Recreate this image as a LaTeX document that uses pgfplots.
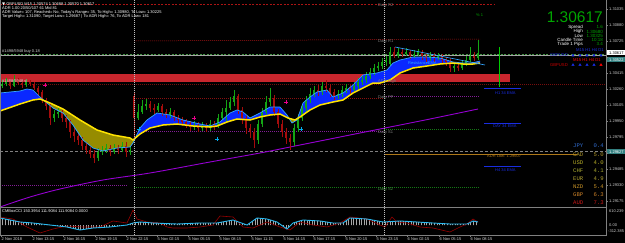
\documentclass[border=0pt]{standalone}
\usepackage{fontspec}
\setmainfont{Liberation Sans}
\newfontfamily\monof{Liberation Mono}
\newfontfamily\djv{DejaVu Sans}
\usepackage{pgfplots}
\usepackage{pgfplotstable}
\pgfplotsset{compat=1.18}
\usetikzlibrary{patterns.meta}
\definecolor{upc}{RGB}{20,165,20}
\definecolor{dnc}{RGB}{165,12,12}
\definecolor{bluefill}{RGB}{10,40,255}
\definecolor{fastline}{RGB}{50,165,255}
\definecolor{slowline}{RGB}{255,228,0}
\definecolor{olivefill}{RGB}{150,140,0}
\definecolor{zone}{RGB}{200,38,45}
\definecolor{purplema}{RGB}{150,0,210}
\definecolor{ccicyan}{RGB}{40,185,240}
\definecolor{ccired}{RGB}{150,0,0}
\definecolor{frame}{RGB}{128,128,128}
\definecolor{pivred}{RGB}{170,20,20}
\definecolor{pivgreen}{RGB}{20,120,20}
\definecolor{pivpurple}{RGB}{130,30,150}
\definecolor{adr}{RGB}{175,120,25}
\definecolor{emablue}{RGB}{25,45,225}
\definecolor{bigg}{RGB}{0,165,0}

\pgfplotsset{pix/.style={scale only axis, width=606pt, height=207.5pt,
  xmin=0, xmax=606, ymin=0, ymax=207.5, y dir=reverse, hide axis, clip=false}}

% candles: x, open, high, low, close (chart rows, smaller = higher price)
\pgfplotstableread{
x o h l c
2 86 80 88 84
6 84 78 86 82
14 86 75 87 80
26 85 79 87 82
54 118 110 122 114
58 114 108 118 112
98 158 148 161 152
102 152 146 155 150
106 150 144 153 148
114 152 144 154 148
122 150 142 152 146
130 152 146 155 150
138 118 104 120 112
142 112 100 114 106
146 106 99 110 104
158 110 103 112 106
170 115 108 118 112
194 127 121 130 125
202 128 122 131 126
210 128 120 131 124
218 126 114 128 118
222 118 108 120 112
226 112 100 123 108
230 108 97 110 102
234 102 90 106 96
258 140 120 144 124
262 124 108 127 112
266 112 96 114 102
270 102 88 106 98
294 142 124 146 128
298 128 114 132 118
302 118 104 121 108
306 108 96 112 100
310 100 88 103 94
314 94 86 97 90
322 92 82 95 86
338 96 90 99 94
342 94 86 97 90
346 90 84 93 88
354 90 82 93 86
358 86 78 90 82
362 82 76 85 80
366 80 72 83 76
370 76 68 79 72
374 72 64 75 68
378 68 62 71 66
382 66 58 69 62
386 62 56 66 60
390 64 47 66 52
398 56 48 58 52
406 54 48 56 52
414 56 50 58 54
418 54 49 56 52
430 58 52 61 55
438 58 53 60 56
454 68 63 72 66
462 68 60 70 64
466 64 56 66 60
470 60 47 62 56
478 58 40 60 53
}\upcandles
\pgfplotstableread{
x o h l c
10 82 80 89 86
18 80 78 85 83
22 83 81 88 85
30 82 80 86 84
34 84 82 90 88
38 88 86 95 92
42 92 90 103 100
46 100 98 110 106
50 106 104 125 118
62 112 110 122 118
66 118 115 128 122
70 122 120 138 132
74 132 128 142 136
78 136 133 145 140
82 140 137 150 146
86 146 142 154 150
90 150 147 158 154
94 154 150 163 158
110 148 145 156 152
118 148 145 154 150
126 146 142 157 152
134 96 93 140 118
150 104 101 112 108
154 108 104 114 110
162 106 104 116 112
166 112 109 118 115
174 112 110 121 118
178 118 115 124 120
182 120 117 126 122
186 122 119 128 124
190 124 121 131 127
198 125 122 132 128
206 126 123 132 128
214 124 121 130 126
238 96 94 114 110
242 110 107 124 118
246 118 115 134 128
250 128 124 138 132
254 132 128 148 140
274 98 95 116 112
278 112 109 128 124
282 124 120 137 132
286 132 128 144 138
290 138 134 150 142
318 90 85 96 92
326 86 80 92 88
330 88 84 97 92
334 92 89 100 96
350 88 85 94 90
394 52 47 58 56
402 52 49 57 54
410 52 50 59 56
422 52 50 60 56
426 56 53 62 58
434 55 53 62 58
442 56 54 64 60
446 60 57 66 62
450 62 58 72 68
458 66 64 71 68
474 56 52 61 58
}\dncandles

% fast moving average (upper edge of the band)
\pgfplotstableread{
x y
0 93
10 92
20 91
27 89
33 90
40 97
47 103
53 108
63 113
73 125
83 140
93 148
103 151
117 148
130 147
133 143
140 128
147 120
157 113
170 115
183 120
200 124
210 126
220 122
230 113
237 110
243 112
250 118
260 113
270 107
280 107
287 115
292 123
297 120
303 103
310 97
317 92
327 90
333 97
343 93
353 85
363 75
377 73
387 70
393 63
400 60
413 57
427 57
440 58
453 62
463 63
472 63
480 61
}\fastma
% slow moving average (yellow)
\pgfplotstableread{
x y
0 111
20 104
33 100
40 99
50 103
63 109
80 120
97 130
113 135
130 138
133 140
140 134
150 128
163 125
177 124
193 126
210 127
217 126
227 122
237 119
250 120
260 117
270 115
280 114
288 118
295 120
300 117
310 110
320 105
333 102
343 100
353 93
363 88
373 83
380 83
390 80
400 73
413 68
427 66
440 64
453 63
463 64
473 64
480 63
}\slowma

% CCI values (panel: zero line at row 225, 44 units per pixel row)
\pgfplotstableread{
x v
0 308
10 220
20 132
33 88
50 0
67 -88
80 -220
93 -132
110 -88
127 0
133 88
140 132
153 88
177 44
200 88
217 88
233 220
247 0
257 308
267 264
277 132
287 -176
293 88
303 220
320 176
333 88
343 88
350 308
367 264
383 132
400 176
417 132
433 88
450 44
460 44
467 44
473 176
478 132
}\ccia
\pgfplotstableread{
x v
0 352
13 264
27 -88
40 -352
53 -176
67 -44
83 -88
100 -88
113 176
127 88
133 660
137 264
147 132
160 88
167 -88
173 -132
187 -132
200 -88
213 0
220 396
233 352
243 -88
253 -132
267 132
280 -88
290 -220
300 132
313 0
327 -88
340 88
350 352
367 264
380 0
385 -88
392 352
397 132
407 88
420 -88
433 -132
450 -308
460 -88
467 44
473 264
478 132
}\ccib

\begin{document}
\begin{tikzpicture}[x=1pt,y=1pt]
\path[use as bounding box] (0,0) rectangle (625,-243);
\fill[black] (0,0) rectangle (625,-243);

% ---------------- main price panel: levels and band ----------------
\begin{axis}[pix, at={(0,0)}, anchor=north west]
\addplot[pivred, line width=0.5pt, dash pattern=on 2pt off 1.5pt] coordinates {(0,4) (495,4)};
\addplot[pivred, line width=0.5pt, dash pattern=on 1pt off 1pt] coordinates {(134,41) (480,39)};
\addplot[pivred!70!black, line width=0.6pt, dash pattern=on 1pt off 1pt] coordinates {(0,84) (606,84)};
\addplot[pivred!80!black, line width=0.5pt, dash pattern=on 1pt off 1pt] coordinates {(134,98.5) (384,98.5)};
\addplot[pivpurple, line width=0.5pt, dash pattern=on 1pt off 1pt] coordinates {(384,96) (480,96)};
\addplot[pivpurple, line width=0.5pt, dash pattern=on 1pt off 1pt] coordinates {(134,131) (384,131)};
\addplot[pivgreen, line width=0.5pt, dash pattern=on 1pt off 1pt] coordinates {(384,129.5) (480,129.5)};
\addplot[frame, line width=0.5pt, dash pattern=on 3pt off 2pt] coordinates {(0,151.5) (606,151.5)};
\addplot[adr, line width=1pt] coordinates {(384,154) (577,154)};
\addplot[pivpurple, line width=0.5pt, dash pattern=on 1pt off 1pt] coordinates {(0,185) (128,185)};
\addplot[pivgreen, line width=0.5pt, dash pattern=on 1pt off 1pt] coordinates {(134,187.5) (480,187.5)};
\addplot[pivgreen!80!white, line width=0.5pt, dash pattern=on 2pt off 1.5pt] coordinates {(0,54) (606,54)};
\addplot[frame!70!white, line width=0.5pt] coordinates {(0,55.7) (606,55.7)};
% supply zone
\addplot[zone, line width=8.5pt] coordinates {(0,77.75) (510,77.75)};
% band between the fast and slow averages (fast forward, slow back)
\addplot[fill=bluefill, draw=none] coordinates {
(0,93) (10,92) (20,91) (27,89) (33,90) (40,97) (47,103) (53,108) (63,113) (73,125) (83,140) (93,148) (103,151) (117,148) (130,147) (133,143) (140,128) (147,120) (157,113) (170,115) (183,120) (200,124) (210,126) (220,122) (230,113) (237,110) (243,112) (250,118) (260,113) (270,107) (280,107) (287,115) (292,123) (297,120) (303,103) (310,97) (317,92) (327,90) (333,97) (343,93) (353,85) (363,75) (377,73) (387,70) (393,63) (400,60) (413,57) (427,57) (440,58) (453,62) (463,63) (472,63) (480,61)
(480,63) (473,64) (463,64) (453,63) (440,64) (427,66) (413,68) (400,73) (390,80) (380,83) (373,83) (363,88) (353,93) (343,100) (333,102) (320,105) (310,110) (300,117) (295,120) (288,118) (280,114) (270,115) (260,117) (250,120) (237,119) (227,122) (217,126) (210,127) (193,126) (177,124) (163,125) (150,128) (140,134) (133,140) (130,138) (113,135) (97,130) (80,120) (63,109) (50,103) (40,99) (33,100) (20,104) (0,111)};
\addplot[fill=olivefill, draw=none] coordinates {
(42,99) (47,103) (53,108) (63,113) (73,125) (83,140) (93,148) (103,151) (117,148) (130,147) (133,143) (135.5,138)
(133,140) (130,138) (113,135) (97,130) (80,120) (63,109) (50,103)};
\addplot[fill=olivefill, draw=none] coordinates {(287.5,117) (292,123) (297,120) (295,120) (290,118.5)};
% long moving average
\addplot[purplema, line width=0.9pt, smooth] coordinates {(0,207) (30,197) (60,189) (103,180) (150,173) (210,162) (260,153) (300,145) (350,135) (385,128) (430,119) (478,109)};
% CCI panel (values mapped onto the panel rows)
\addplot[draw=none, pattern={Lines[angle=90, distance=2.6pt, line width=0.4pt]}, pattern color=white!65!black] table[x=x, y expr={225-\thisrow{v}/44}] {\ccia} -- (axis cs:478,225) -- (axis cs:0,225) -- cycle;
\addplot[ccired, line width=0.6pt] table[x=x, y expr={225-\thisrow{v}/44}] {\ccib};
\addplot[ccicyan, line width=0.9pt] table[x=x, y expr={225-\thisrow{v}/44}] {\ccia};
\end{axis}

% ---------------- candles ----------------
\begin{axis}[pix, at={(0,0)}, anchor=north west]
\addplot[upc, line width=0.5pt, quiver={u=0, v=\thisrow{l}-\thisrow{h}}] table[x=x, y=h] {\upcandles};
\addplot[dnc, line width=0.5pt, quiver={u=0, v=\thisrow{l}-\thisrow{h}}] table[x=x, y=h] {\dncandles};
\addplot[upc, line width=1.7pt, quiver={u=0, v=\thisrow{c}-\thisrow{o}}] table[x=x, y=o] {\upcandles};
\addplot[dnc, line width=1.7pt, quiver={u=0, v=\thisrow{c}-\thisrow{o}}] table[x=x, y=o] {\dncandles};
\end{axis}

% ---------------- averages and markers on top ----------------
\begin{axis}[pix, at={(0,0)}, anchor=north west]
\addplot[fastline, line width=0.7pt] table {\fastma};
\addplot[slowline, line width=1.5pt] table {\slowma};
\addplot[fastline, line width=0.6pt] coordinates {(395,47) (485,65)};
\addplot[only marks, mark=+, mark size=2pt, magenta, line width=0.9pt] coordinates {(45,85) (194,118) (286,102)};
\addplot[only marks, mark=+, mark size=2pt, cyan, line width=0.9pt] coordinates {(139,129) (217,139) (301,129)};
\addplot[green!80!black, line width=0.7pt] coordinates {(499,47) (499,87)};
\addplot[emablue, line width=0.8pt] coordinates {(484,88) (521,88)};
\addplot[emablue, line width=0.8pt] coordinates {(484,123) (521,123)};
\addplot[emablue, line width=0.8pt] coordinates {(484,166) (521,166)};
\addplot[only marks, mark=triangle*, mark size=1.4pt, emablue] coordinates {(573,55.5) (580,55.5) (587,55.5) (594,55.5) (601,55.5) (573,65) (580,65) (587,65) (594,65)};
\addplot[only marks, mark=triangle*, mark size=1.4pt, red] coordinates {(601,65)};
\end{axis}

% ---------------- texts (picture coordinates: 1pt = 1px, y downwards negative) ----------------
\begin{scope}[every node/.style={inner sep=0pt, font=\fontsize{4}{4.5}\selectfont}]
\node[anchor=west, white] at (2,-4) {{\djv ▼} GBPUSD,M15 1.30574 1.30688 1.30570 1.30617};
\node[anchor=west, white] at (2,-8.3) {ADR 1.00 20/50/107 61 Mid 81};
\node[anchor=west, white] at (2,-12.3) {ADR Value= 107, Reached= No, Today's Range= 35, To High= 1.30980, To Low= 1.30225};
\node[anchor=west, white] at (2,-16.3) {Target High= 1.31090, Target Low= 1.29687 | To ADR High= 76, To ADR Low= 181};
\node[anchor=west, white!85!black] at (2,-51.5) {\#1498/5948 buy 0.18};
\node[anchor=west, white!85!black] at (2,-81) {\#1498/5948 sl};
\node[anchor=west, frame] at (378,-5.5) {Daily R2};
\node[anchor=west, frame] at (378,-41) {Daily R1};
\node[anchor=west, frame] at (378,-81) {ADR High};
\node[anchor=west, frame] at (378,-97) {Daily PP};
\node[anchor=west, frame] at (378,-132) {Daily S1};
\node[anchor=west, pivgreen!80!white] at (378,-189) {Daily S2};
\node[anchor=west, fastline] at (408,-63) {ResistanceEMA};
\node[anchor=west, emablue] at (495,-93) {H1 34 EMA};
\node[anchor=west, emablue] at (493,-126) {DAY 34 EMA};
\node[anchor=west, emablue] at (495,-170) {H4 34 EMA};
\node[anchor=west, adr] at (487,-156.5) {ADR Low: 1.29607};
\node[anchor=west, bigg] at (476,-15) {\% 1};
\end{scope}

\node[anchor=east, bigg, inner sep=0pt, font=\fontsize{15.5}{15.5}\selectfont] at (603,-16.8) {1.30617};
\begin{scope}[every node/.style={inner sep=0pt, font=\fontsize{4.5}{5}\selectfont}]
\node[anchor=east, white] at (583,-27.2) {Spread};
\node[anchor=east, white] at (583,-31.5) {High};
\node[anchor=east, white] at (583,-35.8) {Low};
\node[anchor=east, white] at (583,-40.1) {Candle Time};
\node[anchor=east, white] at (583,-44.4) {Trade 1 Pips};
\node[anchor=east, bigg] at (603,-27.2) {1.6};
\node[anchor=east, bigg] at (603,-31.5) {1.30680};
\node[anchor=east, bigg] at (603,-35.8) {1.30325};
\node[anchor=east, bigg] at (603,-40.1) {10:18};
\node[anchor=east, bigg] at (603,-44.4) {3.4};
\end{scope}
\begin{scope}[every node/.style={inner sep=0pt, font=\fontsize{4.2}{5}\selectfont}]
\node[anchor=east, emablue] at (604,-50.2) {M15 H1 H4 D1};
\node[anchor=east, emablue] at (568,-55.5) {GBPUSD};
\node[anchor=east, red] at (601,-60) {M15 H1 H4 D1};
\node[anchor=east, red!80!black] at (568,-65) {GBPUSD};
\end{scope}

\begin{scope}[every node/.style={inner sep=0pt, font=\monof\fontsize{5.6}{6}\selectfont}]
\node[anchor=west, text={rgb,255:red,50;green,110;blue,210}] at (573,-146) {JPY};
\node[anchor=east, text={rgb,255:red,50;green,110;blue,210}] at (604,-146) {0.4};
\node[anchor=west, text={rgb,255:red,175;green,150;blue,40}] at (573,-154.2) {CAD};
\node[anchor=east, text={rgb,255:red,175;green,150;blue,40}] at (604,-154.2) {5.0};
\node[anchor=west, text={rgb,255:red,185;green,175;blue,40}] at (573,-162.3) {USD};
\node[anchor=east, text={rgb,255:red,185;green,175;blue,40}] at (604,-162.3) {4.0};
\node[anchor=west, text={rgb,255:red,175;green,175;blue,50}] at (573,-170.5) {CHF};
\node[anchor=east, text={rgb,255:red,175;green,175;blue,50}] at (604,-170.5) {4.1};
\node[anchor=west, text={rgb,255:red,175;green,160;blue,50}] at (573,-178.6) {EUR};
\node[anchor=east, text={rgb,255:red,175;green,160;blue,50}] at (604,-178.6) {4.9};
\node[anchor=west, text={rgb,255:red,205;green,150;blue,40}] at (573,-186.8) {NZD};
\node[anchor=east, text={rgb,255:red,205;green,150;blue,40}] at (604,-186.8) {5.4};
\node[anchor=west, text={rgb,255:red,205;green,130;blue,40}] at (573,-195) {GBP};
\node[anchor=east, text={rgb,255:red,205;green,130;blue,40}] at (604,-195) {6.3};
\node[anchor=west, text={rgb,255:red,205;green,25;blue,25}] at (573,-203) {AUD};
\node[anchor=east, text={rgb,255:red,205;green,25;blue,25}] at (604,-203) {7.3};
\end{scope}

\begin{scope}[every node/.style={inner sep=0pt, anchor=west, white!80!black, font=\fontsize{4}{4.5}\selectfont}]
\node at (609,-9.3) {1.31035};
\node at (609,-25.3) {1.30880};
\node at (609,-41.3) {1.30725};
\node at (609,-73.2) {1.30415};
\node at (609,-89.2) {1.30260};
\node at (609,-105.2) {1.30105};
\node at (609,-121.1) {1.29950};
\node at (609,-137.1) {1.29795};
\node at (609,-153.1) {1.29640};
\node at (609,-169.0) {1.29485};
\node at (609,-185.0) {1.29330};
\node at (609,-201.0) {1.29175};
\node at (609,-211.5) {610.239};
\node at (609,-225) {0.00};
\node at (608,-231.5) {-312.385};
\end{scope}
\fill[white] (606.5,-50.5) rectangle (625,-55.5);
\node[anchor=west, inner sep=0pt, black, font=\fontsize{4}{4.5}\selectfont] at (609,-53) {1.30617};
\fill[teal!60!gray] (606.5,-57.5) rectangle (625,-62.5);
\node[anchor=west, inner sep=0pt, white, font=\fontsize{4}{4.5}\selectfont] at (609,-60) {1.30522};
\fill[teal!60!gray] (606.5,-149.5) rectangle (625,-154.5);
\node[anchor=west, inner sep=0pt, white, font=\fontsize{4}{4.5}\selectfont] at (609,-152) {1.29627};

% frame, separators, time axis
\draw[frame, line width=0.8pt] (0.4,0) -- (0.4,-235);
\draw[frame, line width=0.8pt] (606,0) -- (606,-236);
\draw[frame, line width=0.8pt] (0,-207.5) -- (606,-207.5);
\draw[frame, line width=0.8pt] (0,-235) -- (606,-235);
\draw[white!75!black, line width=0.5pt, dash pattern=on 1pt off 1pt] (134,0) -- (134,-235);
\draw[white!75!black, line width=0.5pt, dash pattern=on 1pt off 1pt] (384,0) -- (384,-235);
\node[anchor=west, inner sep=0pt, white, font=\fontsize{4}{4.5}\selectfont] at (2,-211.5) {CMBoxCCI 150.3954 111.9084 111.9084 0.0000};
\foreach \xx/\lab in {1/2 Nov 2018, 32/2 Nov 13:15, 63/2 Nov 16:15, 95/2 Nov 19:15, 126/2 Nov 22:15, 157/5 Nov 02:15, 188/5 Nov 05:15, 219/5 Nov 08:15, 251/5 Nov 11:15, 283/5 Nov 14:15, 313/5 Nov 17:15, 345/5 Nov 20:15, 376/5 Nov 23:15, 407/6 Nov 02:15, 439/6 Nov 05:15, 470/6 Nov 08:15}{
  \draw[frame, line width=0.5pt] (\xx,-235) -- (\xx,-237.5);
  \node[anchor=west, inner sep=0pt, white!85!black, font=\fontsize{4}{4.5}\selectfont] at (\xx+0.5,-239.5) {\lab};
}
\foreach \yy in {9.3,25.3,41.3,57.2,73.2,89.2,105.2,121.1,137.1,153.1,169.0,185.0,201.0}{
  \draw[frame, line width=0.5pt] (606,-\yy) -- (608,-\yy);
}
\end{tikzpicture}
\end{document}
